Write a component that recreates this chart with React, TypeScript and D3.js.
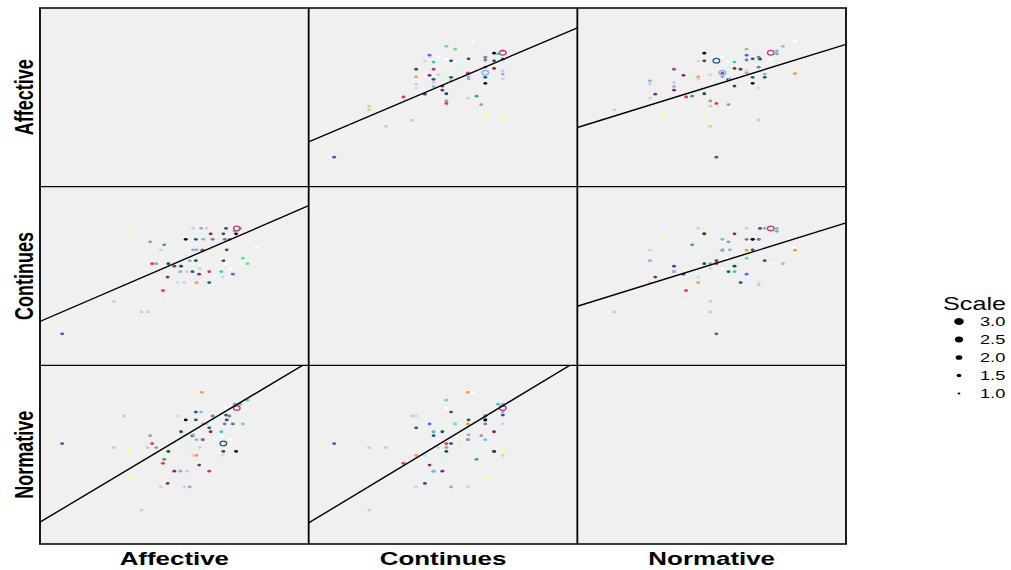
import React from 'react';
import * as d3 from 'd3';

// Scatterplot matrix of the three commitment scales.
const variables = ["Affective", "Continues", "Normative"];

const affective = [
  4.22, 4.09, 4.02, 3.87, 3.83, 3.92, 3.93, 3.98, 3.90, 3.82, 3.75, 3.78, 3.72, 3.70, 3.77, 3.73,
  3.71, 3.73, 3.77, 3.57, 3.54, 3.52, 3.52, 3.43, 3.41, 3.48, 3.43, 3.42, 3.37, 3.33, 3.32, 3.32,
  3.33, 3.32, 3.40, 3.27, 3.23, 3.28, 3.28, 3.15, 3.19, 3.17, 3.17, 3.05, 3.09, 3.10, 3.00, 2.90,
  2.91, 2.83, 2.73, 2.67, 2.80, 2.85, 2.64, 2.60, 2.51, 2.37, 2.31, 2.25, 2.10, 1.33, 3.38, 3.57
];
const continues = [
  3.44, 3.05, 3.18, 2.80, 2.93, 3.76, 3.89, 3.89, 3.82, 3.63, 3.63, 3.38, 2.73, 2.86, 3.05, 3.12,
  3.18, 3.76, 3.89, 3.25, 3.76, 2.60, 2.86, 3.37, 3.37, 3.89, 3.63, 3.37, 2.80, 2.60, 2.99, 3.12,
  3.38, 3.63, 3.89, 2.86, 3.12, 3.38, 3.89, 2.60, 2.86, 3.25, 3.63, 2.60, 2.86, 2.99, 2.99, 2.73,
  3.05, 2.41, 3.05, 3.05, 3.37, 3.50, 3.57, 1.90, 1.90, 3.63, 3.89, 2.54, 2.15, 1.38, 2.93, 3.63
];
const normative = [
  4.24, 4.06, 3.52, 3.52, 3.16, 2.89, 3.88, 3.97, 3.97, 3.70, 3.52, 3.61, 2.80, 3.34, 3.88, 3.07,
  3.24, 2.89, 3.72, 3.27, 3.34, 3.43, 2.44, 3.52, 4.24, 3.52, 3.16, 3.16, 2.58, 2.80, 2.69, 3.79,
  3.16, 3.61, 3.79, 3.25, 2.08, 3.27, 2.80, 2.08, 2.44, 3.05, 3.61, 3.70, 2.44, 3.34, 2.44, 2.16,
  2.89, 2.62, 2.98, 3.07, 2.08, 2.71, 3.25, 2.98, 1.55, 2.27, 2.89, 3.70, 2.98, 3.07, 2.98, 3.70
];
const colorNames = [
  "white", "green", "green", "blue", "white", "black", "pink", "lightBlue", "cyan", "grayPurple", "grayPurple", "teal", "lightCyan", "cyan", "white", "teal",
  "white", "darkGray", "teal", "lightGreen", "darkRed", "teal", "magenta", "orange", "orange", "lightPurple", "lightBlue", "magenta", "purple", "orange", "lightGreen", "teal",
  "lightBlue", "teal", "lightBlue", "teal", "lightBlue", "lightBlue", "lightPurple", "lightPurple", "lightPurple", "lightGreen", "black", "lightCyan", "lightBlue", "darkGreen", "purple", "purple",
  "darkGreen", "red", "gray", "red", "lightGray", "green2", "gray", "khaki", "khaki", "yellow", "yellow", "khaki", "khaki", "navy", "lightGray", "grayPurple"
];

const palette: Record<string, string> = {
  white: "#ffffff", green: "#6fdc7e", blue: "#5f5fff", black: "#0a0a0a", pink: "#c23b7e",
  lightBlue: "#86b4e2", cyan: "#40c4cc", grayPurple: "#7a7aac", teal: "#1e5d74",
  lightCyan: "#aee9ec", darkGray: "#454545", lightGreen: "#ccffcc", darkRed: "#a8201f",
  magenta: "#b83e82", orange: "#ff9a22", purple: "#7d2a7d", lightPurple: "#dcc3f2",
  darkGreen: "#0c5a32", red: "#f2343a", gray: "#9c9c9c", lightGray: "#d2d2d2",
  green2: "#2db34a", khaki: "#d6cf98", yellow: "#ffff6a", navy: "#3c5cab"
};

// Respondents drawn as open circles, and in which panels ([id, row, col]).
const rings: [number, number, number][] = [
  [6, 0, 1], [6, 0, 2], [6, 1, 0], [6, 1, 2], [6, 2, 0], [6, 2, 1],
  [26, 0, 1], [26, 0, 2],
  [15, 0, 2], [15, 2, 0]
];

// fitted lines per panel (row variable on column variable)
const fitRow = [0, 0, 1, 1, 2, 2];
const fitCol = [1, 2, 0, 2, 0, 1];
const fitIntercept = [1.00, 1.551, 0.985, 1.540, 0.360, 0.332];
const fitSlope = [0.710, 0.518, 0.689, 0.496, 0.916, 0.926];

const legendValues = [3.0, 2.5, 2.0, 1.5, 1.0];
const pointScale = 1.25;
const ringScale = 2.0;

// axis domains: columns (x) and rows (y)
const xDomains = [[1, 5], [1, 5], [1, 5]];
const yDomains = [[0.596, 5.045], [0.628, 4.884], [0.776, 4.857]];

const SX = 1.4; // horizontal stretch of the original rendering
const left = 40, top = 8;
const pw = 268.67, ph = 178.67;
const font = "'Liberation Sans', Arial, sans-serif";

export default function App() {
  const vals = [affective, continues, normative];
  const size = d3.scaleSqrt().domain([1, 3]).range([1, 3.4]);

  const panels: JSX.Element[] = [];
  for (let r = 0; r < 3; r++) {
    for (let c = 0; c < 3; c++) {
      const x0 = left + c * pw, y0 = top + r * ph;
      const x = d3.scaleLinear().domain(xDomains[c]).range([x0, x0 + pw]);
      const y = d3.scaleLinear().domain(yDomains[r]).range([y0 + ph, y0]);
      const id = `clip-${r}-${c}`;
      let content: JSX.Element | null = null;
      if (r !== c) {
        const xs = vals[c], ys = vals[r];
        const k = fitRow.findIndex((row, i) => row === r && fitCol[i] === c);
        const a = fitIntercept[k], b = fitSlope[k];
        const line = d3.line<number>().x(v => x(v)).y(v => y(a + b * v));
        const ringIds = rings.filter(d => d[1] === r && d[2] === c).map(d => d[0]);
        const rp = size(pointScale), rr = size(ringScale);
        content = (
          <g clipPath={`url(#${id})`}>
            {xs.map((v, i) => ringIds.includes(i) ? null : (
              <ellipse key={i} cx={x(v)} cy={y(ys[i])} rx={rp * SX} ry={rp}
                fill={palette[colorNames[i]]} />
            ))}
            {ringIds.map(i => (
              <ellipse key={'r' + i} cx={x(xs[i])} cy={y(ys[i])} rx={rr * SX} ry={rr}
                fill="none" stroke={palette[colorNames[i]]} strokeWidth={1.3} />
            ))}
            <path d={line(x.domain()) || ''} fill="none" stroke="#000" strokeWidth={1.4} />
          </g>
        );
      }
      panels.push(
        <g key={id}>
          <clipPath id={id}><rect x={x0} y={y0} width={pw} height={ph} /></clipPath>
          <rect x={x0} y={y0} width={pw} height={ph} fill="#f0f0f0" />
          {content}
        </g>
      );
    }
  }

  const hLines = d3.range(4).map(i => top + i * ph);
  const vLines = d3.range(4).map(i => left + i * pw);

  return (
    <svg width={1011} height={570} style={{ position: 'absolute', left: 0, top: 0, background: '#fff' }}>
      {panels}
      {hLines.map((v, i) => (
        <line key={'h' + i} x1={left - 1} x2={left + 3 * pw + 1} y1={v} y2={v} stroke="#000" strokeWidth={1.3} />
      ))}
      {vLines.map((v, i) => (
        <line key={'v' + i} x1={v} x2={v} y1={top} y2={top + 3 * ph} stroke="#000" strokeWidth={1.8} />
      ))}
      {variables.map((name, i) => (
        <text key={'row' + name} transform={`translate(33,${top + i * ph + ph / 2}) scale(${SX},1) rotate(-90)`}
          textAnchor="middle" fontFamily={font} fontWeight="bold" fontSize={18}>{name}</text>
      ))}
      {variables.map((name, i) => (
        <text key={'col' + name} transform={`translate(${left + i * pw + pw / 2},565) scale(${SX},1)`}
          textAnchor="middle" fontFamily={font} fontWeight="bold" fontSize={18.5}>{name}</text>
      ))}
      <text transform={`translate(943,310) scale(${SX},1)`} fontFamily={font} fontSize={18}>Scale</text>
      {legendValues.map((v, i) => (
        <g key={'lg' + v}>
          <ellipse cx={959} cy={321.5 + i * 18} rx={size(v) * SX} ry={size(v)} fill="#000" />
          <text transform={`translate(980,${321.5 + i * 18 + 4.6}) scale(${SX},1)`}
            fontFamily={font} fontSize={13}>{v.toFixed(1)}</text>
        </g>
      ))}
    </svg>
  );
}
